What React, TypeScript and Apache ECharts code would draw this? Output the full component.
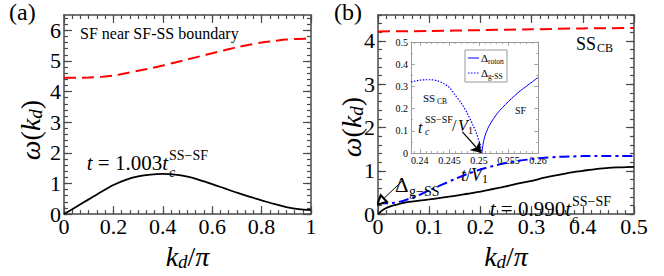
import React, { useEffect, useRef } from "react";
import * as echarts from "echarts";

// ---------- Panel (a): SF near SF-SS boundary ----------
const kdA = [0, 0.05, 0.1, 0.15, 0.2, 0.25, 0.3, 0.35, 0.4, 0.45, 0.5, 0.55, 0.6, 0.65, 0.7, 0.75, 0.8, 0.85, 0.9, 0.95, 1];
const omegaLowA = [0, 0.24, 0.48, 0.72, 0.95, 1.12, 1.23, 1.29, 1.31, 1.29, 1.22, 1.11, 0.98, 0.84, 0.7, 0.57, 0.45, 0.33, 0.23, 0.16, 0.13];
const omegaHighA = [4.45, 4.45, 4.46, 4.48, 4.52, 4.6, 4.68, 4.76, 4.85, 4.95, 5.05, 5.15, 5.25, 5.35, 5.45, 5.53, 5.6, 5.65, 5.7, 5.72, 5.73];

// ---------- Panel (b) ----------
const kdB = [0, 0.01, 0.02, 0.03, 0.04, 0.05, 0.06, 0.08, 0.1, 0.125, 0.15, 0.175, 0.2, 0.225, 0.25, 0.275, 0.3, 0.325, 0.35, 0.375, 0.4, 0.425, 0.45, 0.475, 0.5];
const omegaLowB = [0, 0.1, 0.16, 0.2, 0.23, 0.26, 0.28, 0.31, 0.34, 0.38, 0.42, 0.47, 0.52, 0.58, 0.64, 0.71, 0.77, 0.84, 0.9, 0.96, 1.0, 1.04, 1.07, 1.08, 1.09];
const omegaMidB = [0.25, 0.25, 0.25, 0.26, 0.28, 0.31, 0.35, 0.44, 0.55, 0.68, 0.81, 0.93, 1.03, 1.11, 1.18, 1.23, 1.27, 1.3, 1.32, 1.33, 1.34, 1.34, 1.34, 1.34, 1.34];
const kdHighB = [0, 0.1, 0.2, 0.3, 0.4, 0.5];
const omegaHighB = [4.22, 4.23, 4.25, 4.27, 4.29, 4.3];

// ---------- Inset ----------
const tGss = [0.2385, 0.239, 0.24, 0.241, 0.242, 0.243, 0.244, 0.245, 0.246, 0.247, 0.248, 0.249, 0.2495, 0.25, 0.2503, 0.2505];
const gapGss = [0.32, 0.323, 0.328, 0.33, 0.33, 0.325, 0.313, 0.295, 0.26, 0.225, 0.18, 0.125, 0.095, 0.055, 0.03, 0];
const tRoton = [0.2505, 0.2507, 0.251, 0.2515, 0.252, 0.253, 0.254, 0.255, 0.256, 0.257, 0.258, 0.259, 0.26];
const gapRoton = [0, 0.04, 0.075, 0.11, 0.135, 0.175, 0.205, 0.232, 0.257, 0.28, 0.3, 0.32, 0.34];

// Arrows (data coordinates)
const arrowInset = [[0.2472, 0.095], [0.2504, 0.0]];
const arrowGss = [[0.047, 0.76], [0.005, 0.29]];

// ---------- Ticks ----------
const ticksAx = [0, 0.2, 0.4, 0.6, 0.8, 1];
const ticksAy = [0, 1, 2, 3, 4, 5, 6];
const ticksBx = [0, 0.1, 0.2, 0.3, 0.4, 0.5];
const ticksBy = [0, 1, 2, 3, 4];
const ticksInX = [0.24, 0.245, 0.25, 0.255, 0.26];
const ticksInY = [0, 0.1, 0.2, 0.3, 0.4, 0.5];

function steps(a: number, b: number, step: number) {
  const out: number[] = [];
  const n = Math.round((b - a) / step);
  for (let i = 0; i <= n; i++) out.push(+(a + i * step).toFixed(6));
  return out;
}
const minorAx = steps(0, 1, 0.2 / 6);
const minorAy = steps(0, 6.4, 0.2);
const minorBx = steps(0, 0.5, 0.1 / 6);
const minorBy = steps(0, 4.6, 0.2);
const minorInX = steps(0.239, 0.26, 0.001);
const minorInY = steps(0, 0.5, 0.05);

const SERIF = "'Liberation Serif', 'Times New Roman', serif";

function makeAxes(dim: "x" | "y", gridIndex: number, min: number, max: number, major: number[], minor: number[], o: any) {
  const [p1, p2] = dim === "x" ? ["bottom", "top"] : ["left", "right"];
  const base = {
    type: "value",
    gridIndex,
    min,
    max,
    splitLine: { show: false },
    minorTick: { show: false },
    minorSplitLine: { show: false },
  };
  const line = { show: true, onZero: false, lineStyle: { color: o.frame, width: o.frameW } };
  const noLine = { show: false, onZero: false };
  const majTick = { show: true, inside: true, length: o.major, customValues: major, lineStyle: { color: o.frame, width: o.tickW } };
  const minTick = { show: true, inside: true, length: o.minor, customValues: minor, lineStyle: { color: o.frame, width: o.tickW } };
  return [
    {
      ...base,
      position: p1,
      axisLine: line,
      axisTick: majTick,
      axisLabel: { show: true, customValues: major, fontFamily: SERIF, fontSize: o.fs, color: "#000", margin: o.margin, hideOverlap: false },
      ...(o.name || {}),
    },
    { ...base, position: p1, axisLine: noLine, axisTick: minTick, axisLabel: { show: false } },
    { ...base, position: p2, axisLine: line, axisTick: majTick, axisLabel: { show: false } },
    { ...base, position: p2, axisLine: noLine, axisTick: minTick, axisLabel: { show: false } },
  ];
}

const mainFrame = { frame: "#4a4a4a", frameW: 1.5, tickW: 1.2, major: 8, minor: 4, fs: 22 };
const insetFrame = { frame: "#999", frameW: 1, tickW: 0.8, major: 4, minor: 2, fs: 10 };

const nameRich = {
  i: { fontFamily: SERIF, fontSize: 28, fontStyle: "italic", color: "#000", fill: "#000", lineHeight: 30 },
  n: { fontFamily: SERIF, fontSize: 28, color: "#000", fill: "#000", lineHeight: 30 },
  s: { fontFamily: SERIF, fontSize: 19, fontStyle: "italic", color: "#000", fill: "#000", lineHeight: 17, verticalAlign: "bottom" },
};
const insetNameRich = {
  i: { fontFamily: SERIF, fontSize: 18, fontStyle: "italic", color: "#000", lineHeight: 20 },
  n: { fontFamily: SERIF, fontSize: 18, color: "#000", lineHeight: 20 },
  s: { fontFamily: SERIF, fontSize: 12, color: "#000", lineHeight: 11, verticalAlign: "bottom" },
};

const xName = "{i|k}{s|d}{n|/}{i|π}";
const yName = "{i|ω}{n|(}{i|k}{s|d}{n|)}";

function txt(x: number, y: number, text: string, size: number, opts: any = {}) {
  return {
    type: "text",
    x,
    y,
    silent: true,
    z: 100,
    style: {
      text,
      fontFamily: SERIF,
      fontSize: size,
      fontStyle: opts.italic ? "italic" : "normal",
      fill: "#000",
      align: opts.align || "left",
      verticalAlign: "middle",
    },
  };
}

function tEq(xRight: number, y: number, value: string, size: number) {
  return {
    type: "text",
    x: xRight,
    y,
    silent: true,
    z: 100,
    style: {
      text: "{i|t} = " + value + "{i|t}",
      align: "right",
      verticalAlign: "middle",
      fill: "#000",
      fontFamily: SERIF,
      fontSize: size,
      rich: { i: { fontFamily: SERIF, fontSize: size, fontStyle: "italic", fill: "#000" } },
    },
  };
}

function yLabel(x: number, y: number) {
  return {
    type: "text",
    x,
    y,
    rotation: Math.PI / 2,
    silent: true,
    z: 100,
    style: {
      text: yName,
      align: "center",
      verticalAlign: "middle",
      fill: "#000",
      fontFamily: SERIF,
      fontSize: 28,
      rich: nameRich,
    },
  };
}

export default function App() {
  const ref = useRef<HTMLDivElement>(null);
  useEffect(() => {
    if (!ref.current) return;
    const chart = echarts.init(ref.current, undefined, { renderer: "svg" });

    const xAxes = [
      ...makeAxes("x", 0, 0, 1, ticksAx, minorAx, {
        ...mainFrame,
        margin: 1,
        name: { name: xName, nameLocation: "middle", nameGap: 13, nameTextStyle: { fontFamily: SERIF, rich: nameRich } },
      }),
      ...makeAxes("x", 1, 0, 0.5, ticksBx, minorBx, {
        ...mainFrame,
        margin: 1,
        name: { name: xName, nameLocation: "middle", nameGap: 13, nameTextStyle: { fontFamily: SERIF, rich: nameRich } },
      }),
      ...makeAxes("x", 2, 0.2385, 0.26, ticksInX, minorInX, {
        ...insetFrame,
        margin: 2,
        name: { name: "{i|t}{n|/}{i|V}{s|1}", nameLocation: "middle", nameGap: 4, nameTextStyle: { fontFamily: SERIF, rich: insetNameRich } },
      }),
    ];
    const yAxes = [
      ...makeAxes("y", 0, 0, 6.5, ticksAy, minorAy, { ...mainFrame, margin: 3 }),
      ...makeAxes("y", 1, 0, 4.6, ticksBy, minorBy, { ...mainFrame, margin: 3 }),
      ...makeAxes("y", 2, 0, 0.5, ticksInY, minorInY, { ...insetFrame, margin: 3 }),
    ];

    const pair = (xs: number[], ys: number[]) => xs.map((x, i) => [x, ys[i]]);

    const option: any = {
      animation: false,
      backgroundColor: "#fff",
      textStyle: { fontFamily: SERIF },
      grid: [
        { left: 64, top: 15, width: 247, height: 213, containLabel: false },
        { left: 378, top: 15, width: 256, height: 213, containLabel: false },
        { left: 411, top: 42, width: 127, height: 111, containLabel: false, show: true, backgroundColor: "#fff", borderWidth: 0 },
      ],
      xAxis: xAxes,
      yAxis: yAxes,
      series: [
        { name: "lowA", type: "line", xAxisIndex: 0, yAxisIndex: 0, data: pair(kdA, omegaLowA), symbol: "none", smooth: 0.3, lineStyle: { color: "#000", width: 1.8 } },
        { name: "highA", type: "line", xAxisIndex: 0, yAxisIndex: 0, data: pair(kdA, omegaHighA), symbol: "none", smooth: 0.3, lineStyle: { color: "#f00", width: 2, type: [12, 6] } },
        { name: "lowB", type: "line", xAxisIndex: 4, yAxisIndex: 4, data: pair(kdB, omegaLowB), symbol: "none", smooth: 0.3, lineStyle: { color: "#000", width: 1.8 } },
        { name: "midB", type: "line", xAxisIndex: 4, yAxisIndex: 4, data: pair(kdB, omegaMidB), symbol: "none", smooth: 0.3, lineStyle: { color: "#00f", width: 2, type: [10, 4, 3, 4] } },
        { name: "highB", type: "line", xAxisIndex: 4, yAxisIndex: 4, data: pair(kdHighB, omegaHighB), symbol: "none", smooth: 0.3, lineStyle: { color: "#f00", width: 2, type: [12, 6] } },
        { name: "roton", type: "line", xAxisIndex: 8, yAxisIndex: 8, data: pair(tRoton, gapRoton), symbol: "none", smooth: 0.3, lineStyle: { color: "#00f", width: 1 } },
        { name: "gss", type: "line", xAxisIndex: 8, yAxisIndex: 8, data: pair(tGss, gapGss), symbol: "none", smooth: 0.3, lineStyle: { color: "#00f", width: 1.2, type: [1.5, 1.5] } },
        {
          name: "arrowInset",
          type: "lines",
          coordinateSystem: "cartesian2d",
          xAxisIndex: 8,
          yAxisIndex: 8,
          symbol: ["none", "arrow"],
          symbolSize: [7, 10],
          lineStyle: { color: "#000", width: 1.2, opacity: 1 },
          data: [{ coords: arrowInset }],
          silent: true,
        },
        {
          name: "arrowGss",
          type: "lines",
          coordinateSystem: "cartesian2d",
          xAxisIndex: 4,
          yAxisIndex: 4,
          symbol: ["none", "emptyTriangle"],
          symbolSize: [7, 9],
          lineStyle: { color: "#000", width: 1, opacity: 1 },
          data: [{ coords: arrowGss }],
          silent: true,
          z: 5,
        },
      ],
      graphic: [
        txt(9, 12, "(a)", 24),
        txt(334, 12, "(b)", 24),
        yLabel(30, 130),
        yLabel(351, 127),
        txt(80, 33, "SF near SF-SS boundary", 16),
        tEq(168, 163, "1.003", 21),
        txt(169, 155, "SS−SF", 14),
        txt(169, 172, "c", 14, { italic: true }),
        tEq(571, 209, "0.990", 21),
        txt(572, 201, "SS−SF", 14),
        txt(572, 218, "c", 13, { italic: true }),
        txt(576, 44, "SS", 18),
        txt(597, 48, "CB", 12),
        txt(395, 185, "Δ", 21),
        txt(409, 191, "g−SS", 14),
        txt(423, 98, "SS", 11),
        txt(437, 101, "CB", 7.5),
        txt(515, 110, "SF", 10),
        txt(418, 127, "t", 16, { italic: true }),
        txt(425, 119, "SS−SF", 10),
        txt(425, 131, "c", 10, { italic: true }),
        txt(452, 125, "/", 16),
        txt(458, 125, "V", 16, { italic: true }),
        txt(468, 130, "1", 10),
        { type: "rect", z: 100, silent: true, shape: { x: 465, y: 50, width: 42, height: 32 }, style: { fill: "#fff", stroke: "#999", lineWidth: 1 } },
        { type: "line", z: 101, silent: true, shape: { x1: 468, y1: 58, x2: 479, y2: 58 }, style: { stroke: "#00f", lineWidth: 1 } },
        { type: "line", z: 101, silent: true, shape: { x1: 468, y1: 73, x2: 479, y2: 73 }, style: { stroke: "#00f", lineWidth: 1.2, lineDash: [1.5, 1.5] } },
        { ...txt(481, 58, "Δ", 11), z: 102 },
        { ...txt(488, 61, "roton", 7.5), z: 102 },
        { ...txt(481, 73, "Δ", 11), z: 102 },
        { ...txt(488, 76, "g-SS", 7.5), z: 102 },
      ],
    };
    chart.setOption(option);
    return () => chart.dispose();
  }, []);
  return <div ref={ref} style={{ position: "fixed", left: 0, top: 0, width: 664, height: 276 }} />;
}
